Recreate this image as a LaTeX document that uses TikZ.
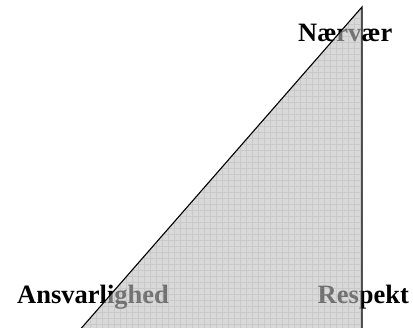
\documentclass[tikz,border=0pt]{standalone}
\usepackage{fontspec}
\setmainfont{Liberation Serif}
\definecolor{trifill}{rgb}{0.75,0.75,0.75}
\definecolor{gridc}{rgb}{0.6,0.6,0.6}
\begin{document}
\begin{tikzpicture}[x=1pt,y=-1pt,
  lbl/.style={anchor=base west,inner sep=0pt,font=\fontsize{26.5}{30}\selectfont\bfseries}]
\useasboundingbox (0,0) rectangle (413,328);
\node[lbl] (narvaer) at (298,42) {Nærvær};
\node[lbl] (ansvar) at (17,304) {Ansvarlighed};
\node[lbl] (respekt) at (317.5,304) {Respekt};
\coordinate (apex) at (362,7);
\coordinate (br) at (362,340);
\coordinate (bl) at (71,340);
\begin{scope}
\clip (0,0) rectangle (413,328);
\fill[trifill,fill opacity=0.59] (apex) -- (br) -- (bl) -- cycle;
\begin{scope}
\clip (apex) -- (br) -- (bl) -- cycle;
\draw[gridc,opacity=0.25,line width=0.6pt,step=6pt] (60,0) grid (370,340);
\end{scope}
\draw[line width=1.1pt] (bl) -- (apex) -- (br);
\end{scope}
\end{tikzpicture}
\end{document}
